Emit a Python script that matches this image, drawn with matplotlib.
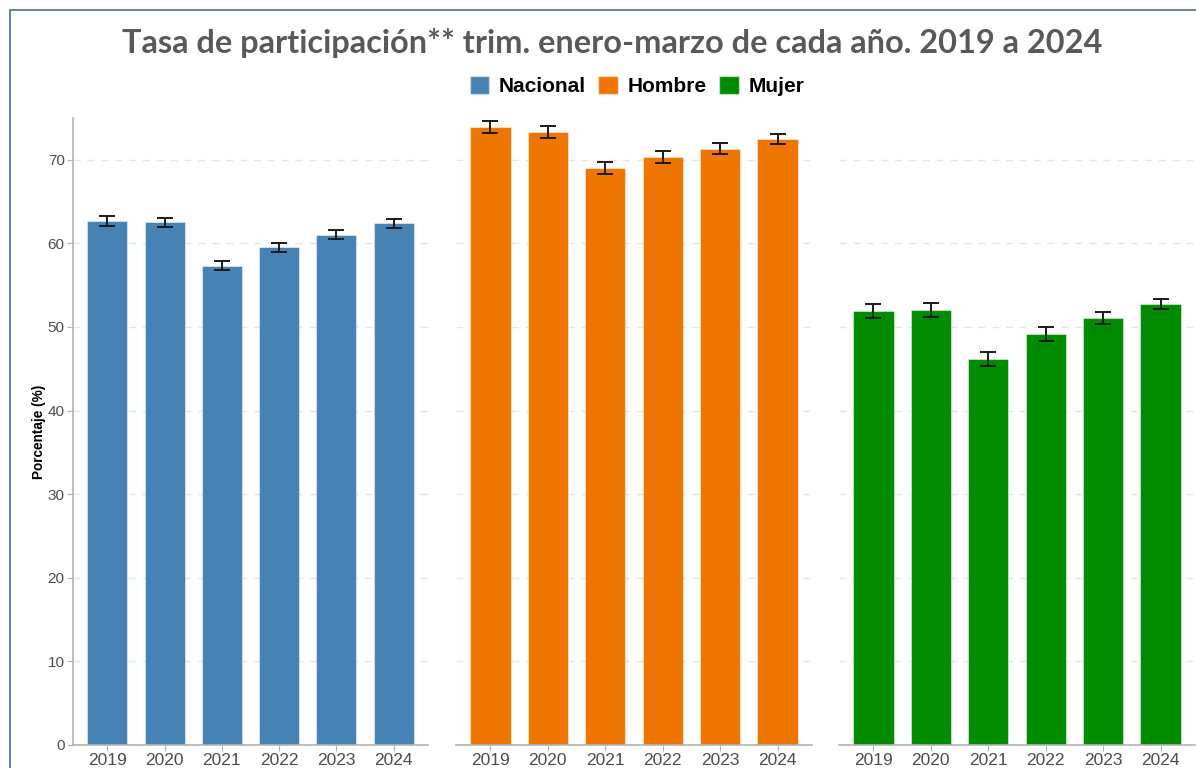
import matplotlib
matplotlib.use("Agg")
import matplotlib.pyplot as plt
from matplotlib.patches import Rectangle, Patch
import numpy as np

years = ["2019", "2020", "2021", "2022", "2023", "2024"]
groups = ["Nacional", "Hombre", "Mujer"]
colors = ["#4682B4", "#EE7600", "#008B00"]
nacional = [62.7, 62.5, 57.35, 59.55, 61.05, 62.4]
hombre = [73.95, 73.35, 69.0, 70.3, 71.35, 72.45]
mujer = [51.95, 52.05, 46.15, 49.15, 51.1, 52.75]
err_nacional = [0.6, 0.55, 0.55, 0.55, 0.55, 0.5]
err_hombre = [0.75, 0.7, 0.7, 0.7, 0.65, 0.6]
err_mujer = [0.85, 0.8, 0.8, 0.8, 0.75, 0.65]
yticks = [0, 10, 20, 30, 40, 50, 60, 70]

values = [nacional, hombre, mujer]
errors = [err_nacional, err_hombre, err_mujer]

W, H = 1196, 768
fig = plt.figure(figsize=(W / 100, H / 100), dpi=100)
fig.patch.set_facecolor("white")

# slide frame
fig.patches.append(Rectangle((10 / W, -0.1), 1.2, (H - 10) / H + 0.1,
                             transform=fig.transFigure, fill=False,
                             edgecolor="#4a6aa8", linewidth=1.2, zorder=0))

panels = [(73, 428), (456, 812), (839, 1195)]
top_px, bot_px = 118, 745
x = np.arange(len(years))

for i, (l, r) in enumerate(panels):
    ax = fig.add_axes([l / W, (H - bot_px) / H, (r - l) / W, (bot_px - top_px) / H])
    ax.set_facecolor("white")
    ax.bar(x, values[i], width=0.7, color=colors[i], edgecolor=(1, 1, 1, 0.45),
           linewidth=0.8, zorder=2)
    ax.errorbar(x, values[i], yerr=errors[i], fmt="none", ecolor="#1a1a1a",
                elinewidth=1.4, capsize=5.8, capthick=1.4, zorder=3)
    ax.set_xlim(-0.6, len(years) - 0.4)
    ax.set_ylim(0, 75)
    ax.set_yticks(yticks)
    ax.set_xticks(x)
    ax.set_xticklabels(years, fontfamily="Liberation Sans")
    ax.grid(axis="y", color="#e6e6e6", linestyle=(0, (5, 5)), linewidth=1.0, zorder=0)
    ax.set_axisbelow(True)
    for s in ["top", "right"]:
        ax.spines[s].set_visible(False)
    ax.spines["bottom"].set_color("#b3b3b3")
    ax.spines["bottom"].set_linewidth(1.2)
    ax.tick_params(axis="x", colors="#b3b3b3", labelcolor="#4d4d4d", labelsize=12.5,
                   length=4, pad=1.5)
    if i == 0:
        ax.spines["left"].set_color("#b3b3b3")
        ax.spines["left"].set_linewidth(1.2)
        ax.tick_params(axis="y", colors="#b3b3b3", labelcolor="#4d4d4d",
                       labelsize=11, length=4, pad=2)
        for t in ax.get_yticklabels():
            t.set_fontfamily("Liberation Sans")
        ax.set_ylabel("Porcentaje (%)", fontsize=9.8, fontweight="bold", color="black",
                      labelpad=1, fontfamily="Liberation Sans")
    else:
        ax.spines["left"].set_visible(False)
        ax.tick_params(axis="y", left=False, labelleft=False)

fig.text(612 / W, 1 - 43 / H,
         "Tasa de participación** trim. enero-marzo de cada año. 2019 a 2024",
         ha="center", va="center", fontsize=23.4, fontweight="bold",
         color="#595959", family="Lato")

handles = [Patch(facecolor=c, edgecolor=(1, 1, 1, 0.5), label=g)
           for g, c in zip(groups, colors)]
leg = fig.legend(handles=handles, loc="center", bbox_to_anchor=(637 / W, 1 - 86 / H),
                 ncol=3, frameon=False, handlelength=0.95, handleheight=0.95,
                 handletextpad=0.45, columnspacing=0.6,
                 prop={"family": "Liberation Sans", "weight": "bold", "size": 15})

fig.savefig("out.png", dpi=100, facecolor="white")
